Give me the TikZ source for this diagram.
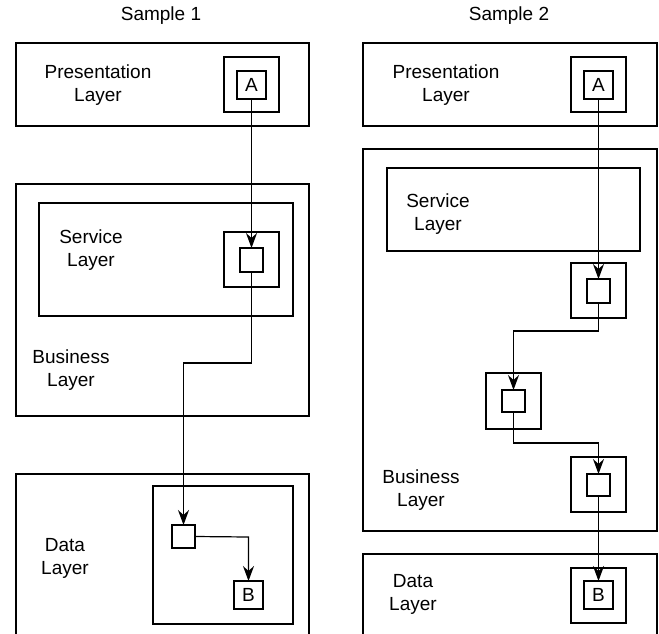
\documentclass[tikz,border=0pt]{standalone}
\usepackage{fontspec}
\setmainfont{Liberation Sans}
\usetikzlibrary{arrows.meta}
\begin{document}
\begin{tikzpicture}[x=1pt,y=-1pt,
  every node/.style={inner sep=0pt,outer sep=0pt},
  box/.style={draw,line width=1.2pt,rectangle},
  lbl/.style={align=center,font=\fontsize{19}{23}\selectfont},
  ttl/.style={font=\fontsize{19}{23}\selectfont},
  conn/.style={line width=1.2pt,-{Stealth[length=15pt,width=11pt,inset=5pt]}}]
\clip (0,0) rectangle (659,633);
\useasboundingbox (0,0) rectangle (659,633);
% titles
\node[ttl] (t1) at (161,16) {Sample 1};
\node[ttl] (t2) at (509,16) {Sample 2};
% ---- Sample 1 ----
\node[box,minimum width=293pt,minimum height=83pt] (p1) at (162.5,84.5) {};
\node[box,minimum width=55pt,minimum height=55pt] (p1o) at (251.5,84.5) {};
\node[box,lbl,minimum width=29pt,minimum height=28pt] (A1) at (251.5,85) {A};
\node[lbl] (p1t) at (98,85) {Presentation\\Layer};
\node[box,minimum width=293pt,minimum height=232pt] (b1) at (162.5,300) {};
\node[box,minimum width=254pt,minimum height=113pt] (s1) at (166,259.5) {};
\node[box,minimum width=55pt,minimum height=55pt] (s1o) at (251.5,259.5) {};
\node[box,minimum width=23pt,minimum height=24pt] (s1i) at (251.5,260) {};
\node[lbl] (s1t) at (91,250) {Service\\Layer};
\node[lbl] (b1t) at (71,370) {Business\\Layer};
\node[box,minimum width=293pt,minimum height=200pt] (d1) at (162.5,574) {};
\node[box,minimum width=140pt,minimum height=138pt] (d1c) at (223,555) {};
\node[box,minimum width=23pt,minimum height=23pt] (d1s) at (183.5,536.5) {};
\node[box,lbl,minimum width=29pt,minimum height=28pt] (B1) at (248.5,595) {B};
\node[lbl] (d1t) at (65,558) {Data\\Layer};
\coordinate (c1a) at (251.5,363);
\coordinate (c1b) at (183.5,363);
\coordinate (c1c) at (248.5,537);
\draw[conn] (A1.south) -- (s1i.north);
\draw[conn] (s1i.south) -- (c1a) -- (c1b) -- (d1s.north);
\draw[conn] (d1s.east) -- (c1c) -- (B1.north);
% ---- Sample 2 ----
\node[box,minimum width=294pt,minimum height=83pt] (p2) at (510,84.5) {};
\node[box,minimum width=55pt,minimum height=55pt] (p2o) at (598.5,84.5) {};
\node[box,lbl,minimum width=29pt,minimum height=28pt] (A2) at (598.5,85) {A};
\node[lbl] (p2t) at (446,85) {Presentation\\Layer};
\node[box,minimum width=294pt,minimum height=382pt] (b2) at (510,340) {};
\node[box,minimum width=253pt,minimum height=83pt] (s2) at (513.5,209.5) {};
\node[lbl] (s2t) at (438,214.5) {Service\\Layer};
\node[box,minimum width=55pt,minimum height=55pt] (x1o) at (598.5,290.5) {};
\node[box,minimum width=23pt,minimum height=24pt] (x1i) at (598.5,291) {};
\node[box,minimum width=55pt,minimum height=56pt] (x2o) at (513.5,401) {};
\node[box,minimum width=23pt,minimum height=22pt] (x2i) at (513.5,401) {};
\node[box,minimum width=55pt,minimum height=55pt] (x3o) at (598.5,484.5) {};
\node[box,minimum width=23pt,minimum height=22pt] (x3i) at (598.5,485) {};
\node[lbl] (b2t) at (421,490.5) {Business\\Layer};
\node[box,minimum width=294pt,minimum height=120pt] (d2) at (510,614) {};
\node[box,minimum width=55pt,minimum height=55pt] (B2o) at (598.5,595.5) {};
\node[box,lbl,minimum width=29pt,minimum height=28pt] (B2) at (598.5,595) {B};
\node[lbl] (d2t) at (413,594.5) {Data\\Layer};
\coordinate (c2a) at (598.5,331);
\coordinate (c2b) at (513.5,331);
\coordinate (c2c) at (513.5,443);
\coordinate (c2d) at (598.5,443);
\draw[conn] (A2.south) -- (x1i.north);
\draw[conn] (x1i.south) -- (c2a) -- (c2b) -- (x2i.north);
\draw[conn] (x2i.south) -- (c2c) -- (c2d) -- (x3i.north);
\draw[conn] (x3i.south) -- (B2.north);
\end{tikzpicture}
\end{document}
